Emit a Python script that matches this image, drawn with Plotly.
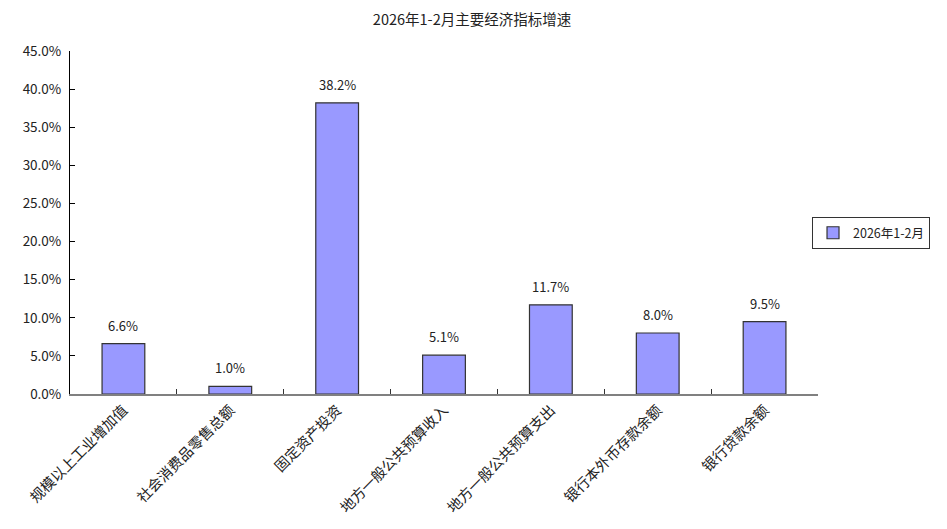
import plotly.graph_objects as go

# 2026年1-2月主要经济指标增速 (%)
categories = ['规模以上工业增加值', '社会消费品零售总额', '固定资产投资',
              '地方一般公共预算收入', '地方一般公共预算支出',
              '银行本外币存款余额', '银行贷款余额']
growth = [6.6, 1.0, 38.2, 5.1, 11.7, 8.0, 9.5]
series_name = '2026年1-2月'
y_ticks = [0, 5, 10, 15, 20, 25, 30, 35, 40, 45]

font_cn = 'Noto Sans CJK SC'

fig = go.Figure()
fig.add_trace(go.Bar(
    x=categories,
    y=growth,
    name=series_name,
    marker=dict(color='#9999FF', line=dict(color='#333333', width=1.2)),
    width=0.4,
    showlegend=True,
))

# value labels above each bar
for cat, val in zip(categories, growth):
    fig.add_annotation(
        x=cat, y=val, text=f'{val:.1f}%',
        showarrow=False, yanchor='bottom', yshift=7,
        font=dict(family=font_cn, size=13, color='#222'),
    )

fig.update_xaxes(
    showline=True,
    linecolor='#808080',
    linewidth=2,
    ticks='inside',
    tickson='boundaries',
    ticklen=5,
    tickcolor='#333',
    tickangle=-45,
    tickfont=dict(family=font_cn, size=14.5, color='#222'),
    showgrid=False,
    zeroline=False,
)
fig.update_yaxes(
    range=[0, 45],
    tickvals=y_ticks,
    ticktext=[f'{v:.1f}%' for v in y_ticks],
    showline=True,
    linecolor='#000',
    linewidth=1,
    ticks='inside',
    ticklen=5,
    tickcolor='#000',
    ticklabelstandoff=5,
    tickfont=dict(family=font_cn, size=13.5, color='#222'),
    showgrid=False,
    zeroline=False,
)

fig.update_layout(
    width=947,
    height=529,
    title=dict(text='2026年1-2月主要经济指标增速', x=0.49, xanchor='center',
               y=0.977, yanchor='middle',
               font=dict(family=font_cn, size=14.5, color='#222')),
    plot_bgcolor='white',
    paper_bgcolor='white',
    margin=dict(l=62, r=137, t=43, b=143),
    font=dict(family=font_cn, size=12, color='#222'),
    legend=dict(x=0.992, xanchor='left', y=0.469, yanchor='middle',
                bordercolor='#333', borderwidth=1, itemwidth=30,
                font=dict(family=font_cn, size=12.5, color='#222')),
    bargap=0.6,
)

fig.write_html('out.html')
